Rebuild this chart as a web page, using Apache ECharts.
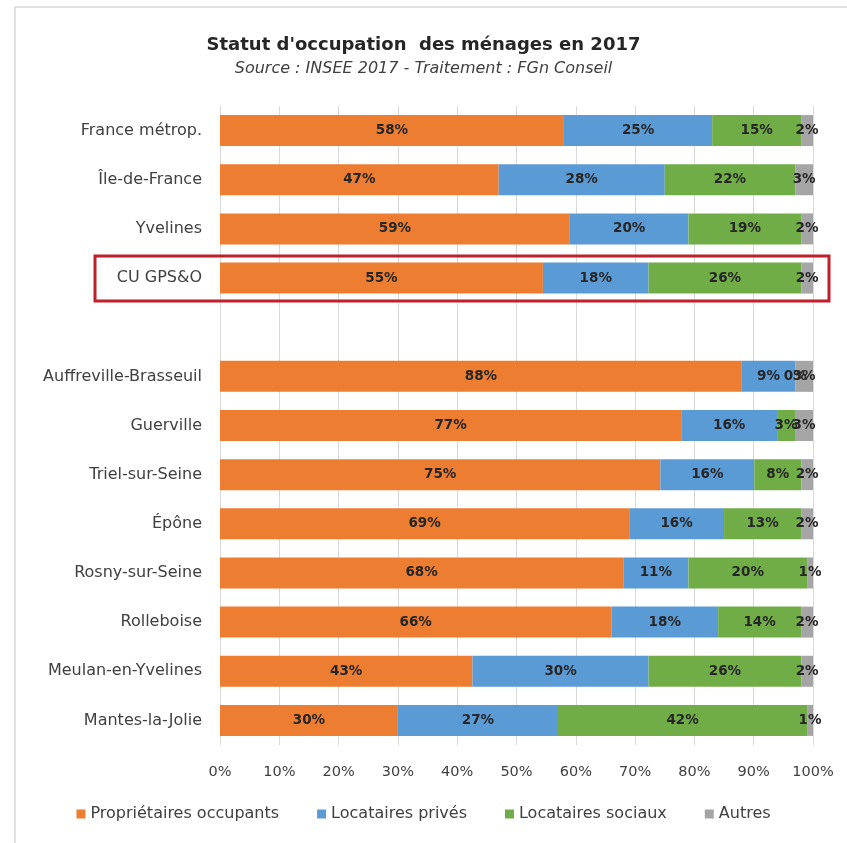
<!DOCTYPE html>
<html>
<head>
<meta charset="utf-8">
<script src="https://cdn.jsdelivr.net/npm/echarts@6/dist/echarts.min.js"></script>
<style>html,body{margin:0;padding:0;background:#fff;}#c{width:847px;height:843px;}</style>
</head>
<body>
<div id="c"></div>
<script>
const categories = ["France métrop.", "Île-de-France", "Yvelines", "CU GPS&O", "",
  "Auffreville-Brasseuil", "Guerville", "Triel-sur-Seine", "Épône", "Rosny-sur-Seine",
  "Rolleboise", "Meulan-en-Yvelines", "Mantes-la-Jolie"];
const seriesNames = ["Propriétaires occupants", "Locataires privés", "Locataires sociaux", "Autres"];
const proprietaires = [58, 47, 59, 55, null, 88, 77, 75, 69, 68, 66, 43, 30];
const locPrives     = [25, 28, 20, 18, null, 9, 16, 16, 16, 11, 18, 30, 27];
const locSociaux    = [15, 22, 19, 26, null, 0, 3, 8, 13, 20, 14, 26, 42];
const autres        = [2, 3, 2, 2, null, 3, 3, 2, 2, 1, 2, 2, 1];
const tickLabels = ["0%","10%","20%","30%","40%","50%","60%","70%","80%","90%","100%"];
const highlighted = "CU GPS&O";

const colors = ["#ED7D31", "#5B9BD5", "#70AD47", "#A5A5A5"];
const FONT = "DejaVu Sans";
const all = [proprietaires, locPrives, locSociaux, autres];
const totals = categories.map((c, i) => all.reduce((s, arr) => s + (arr[i] || 0), 0));

const series = all.map((arr, k) => ({
  name: seriesNames[k],
  type: 'bar',
  stack: 'total',
  barWidth: 31,
  itemStyle: { color: colors[k] },
  label: {
    show: true,
    position: 'inside',
    fontFamily: FONT,
    fontSize: 13.5,
    fontWeight: 'bold',
    color: '#262626',
    formatter: p => (p.data && p.data.raw != null) ? p.data.raw + '%' : ''
  },
  data: arr.map((v, i) => v == null ? null : { value: v / totals[i] * 100, raw: v })
}));

const chart = echarts.init(document.getElementById('c'), null, { renderer: 'canvas' });
chart.setOption({
  animation: false,
  backgroundColor: '#fff',
  title: {
    text: "Statut d'occupation  des ménages en 2017",
    subtext: "Source : INSEE 2017 - Traitement : FGn Conseil",
    left: 'center',
    top: 31,
    itemGap: 7,
    textStyle: { fontFamily: FONT, fontSize: 18, fontWeight: 'bold', color: '#262626' },
    subtextStyle: { fontFamily: FONT, fontSize: 16, fontStyle: 'italic', color: '#404040' }
  },
  legend: {
    bottom: 16,
    left: 'center',
    itemWidth: 9,
    itemHeight: 9,
    itemGap: 38,
    icon: 'rect',
    textStyle: { fontFamily: FONT, fontSize: 16, color: '#404040' },
    data: seriesNames
  },
  grid: { left: 220, right: 34, top: 106, bottom: 98, containLabel: false },
  xAxis: {
    type: 'value', min: 0, max: 100, interval: 10,
    axisLine: { show: false }, axisTick: { show: false },
    splitLine: { show: true, lineStyle: { color: '#d9d9d9', width: 1 } },
    axisLabel: { margin: 20, fontFamily: FONT, fontSize: 14.5, color: '#404040',
      formatter: (v) => tickLabels[Math.round(v / 10)] }
  },
  yAxis: {
    type: 'category', inverse: true, data: categories,
    axisTick: { show: false },
    axisLine: { show: true, lineStyle: { color: '#d9d9d9' } },
    axisLabel: { margin: 18, fontFamily: FONT, fontSize: 16, color: '#404040' }
  },
  series: series
});

const yc = chart.convertToPixel({ yAxisIndex: 0 }, highlighted);
chart.setOption({
  graphic: [
    { type: 'rect', shape: { x: 15, y: 7, width: 840, height: 850 },
      style: { fill: null, stroke: '#d9d9d9', lineWidth: 1.5 }, silent: true },
    { type: 'rect', shape: { x: 95, y: yc - 22, width: 734, height: 45 },
      style: { fill: null, stroke: '#C0202A', lineWidth: 3 }, silent: true, z: 100 }
  ]
});
</script>
</body>
</html>
